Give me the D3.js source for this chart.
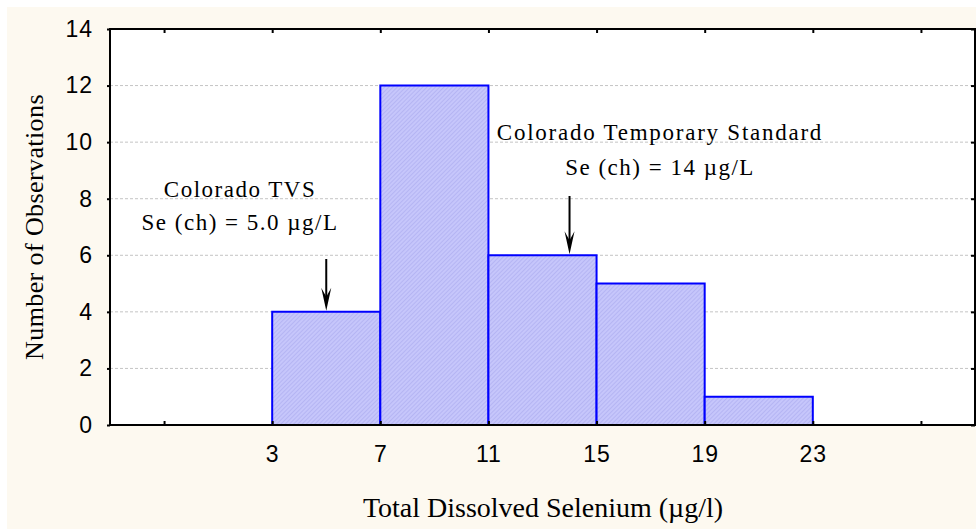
<!DOCTYPE html>
<html>
<head>
<meta charset="utf-8">
<script src="https://cdn.jsdelivr.net/npm/d3@7"></script>
<style>
  body { margin: 0; background: #fff; }
  svg { display: block; font-family: "Liberation Serif", "Times New Roman", serif; }
</style>
</head>
<body>
<script>
// histogram data
const binEdges = [-1, 3, 7, 11, 15, 19, 23, 27];
const counts = [0, 4, 12, 6, 5, 1, 0];
const xTicks = [-1, 3, 7, 11, 15, 19, 23, 27];
const xTickLabels = ["", "3", "7", "11", "15", "19", "23", ""];
const yTicks = [0, 2, 4, 6, 8, 10, 12, 14];
const annotations = [
    { x: 5, count: 4, lines: ["Colorado TVS", "Se (ch) = 5.0 \u00b5g/L"] },
    { x: 14, count: 6, lines: ["Colorado Temporary Standard", "Se (ch) = 14 \u00b5g/L"] }
];

const width = 976, height = 529;
const margin = { top: 29, right: 1, bottom: 104, left: 110 };

const svg = d3.select("body").append("svg")
    .attr("width", width)
    .attr("height", height);

const defs = svg.append("defs");
const pat = defs.append("pattern")
    .attr("id", "hatch")
    .attr("patternUnits", "userSpaceOnUse")
    .attr("width", 3)
    .attr("height", 3)
    .attr("patternTransform", "rotate(45)");
pat.append("rect").attr("width", 3).attr("height", 3).attr("fill", "#c6c6fb");
pat.append("line").attr("x1", 0).attr("y1", 0).attr("x2", 0).attr("y2", 3)
    .attr("stroke", "#a9a9ee").attr("stroke-width", 1.2);

// cream background
svg.append("rect")
    .attr("x", 7).attr("y", 7)
    .attr("width", width - 7).attr("height", height - 7)
    .attr("fill", "#fdf9f0");

const x = d3.scaleLinear().domain([-3, 29]).range([margin.left, width - margin.right]);
const y = d3.scaleLinear().domain([0, 14]).range([height - margin.bottom, margin.top]);

// plot area
svg.append("rect")
    .attr("x", x(-3)).attr("y", y(14))
    .attr("width", x(29) - x(-3)).attr("height", y(0) - y(14))
    .attr("fill", "#fff");

// grid
svg.append("g")
    .selectAll("line")
    .data(yTicks.filter(d => d > 0 && d < 14))
    .join("line")
    .attr("x1", x(-3)).attr("x2", x(29))
    .attr("y1", d => y(d)).attr("y2", d => y(d))
    .attr("stroke", "#c4c4c4")
    .attr("stroke-dasharray", "3,2")
    .attr("stroke-width", 1);

// bars
const bins = counts.map((c, i) => ({ x0: binEdges[i], x1: binEdges[i + 1], c }));
svg.append("g")
    .selectAll("path")
    .data(bins)
    .join("path")
    .attr("d", d => `M${x(d.x0)},${y(0)}V${y(d.c)}H${x(d.x1)}V${y(0)}`)
    .attr("fill", d => d.c > 0 ? "url(#hatch)" : "none")
    .attr("stroke", "#0000ff")
    .attr("stroke-width", 2);

// frame
svg.append("rect")
    .attr("x", x(-3)).attr("y", y(14))
    .attr("width", x(29) - x(-3)).attr("height", y(0) - y(14))
    .attr("fill", "none")
    .attr("stroke", "#000")
    .attr("stroke-width", 2);

// x axis
const xAxis = svg.append("g")
    .attr("transform", `translate(0,${y(0)})`)
    .call(d3.axisBottom(x).tickValues(xTicks)
        .tickFormat((d, i) => xTickLabels[i])
        .tickSizeInner(-4).tickSizeOuter(0).tickPadding(21));
xAxis.select(".domain").remove();
xAxis.selectAll("line").attr("stroke", "#000").attr("stroke-width", 2);
xAxis.selectAll("text")
    .attr("fill", "#000")
    .style("font-size", "23px")
    .style("letter-spacing", "1px");

// top ticks
const xTop = svg.append("g")
    .attr("transform", `translate(0,${y(14)})`)
    .call(d3.axisTop(x).tickValues(xTicks).tickFormat("").tickSizeInner(-4).tickSizeOuter(0));
xTop.select(".domain").remove();
xTop.selectAll("line").attr("stroke", "#000").attr("stroke-width", 2);

// y axis
const yAxis = svg.append("g")
    .attr("transform", `translate(${x(-3)},0)`)
    .call(d3.axisLeft(y).tickValues(yTicks).tickSizeInner(3).tickSizeOuter(0).tickPadding(14));
yAxis.select(".domain").remove();
yAxis.selectAll("line").attr("stroke", "#000").attr("stroke-width", 2);
yAxis.selectAll("text")
    .attr("fill", "#000")
    .style("font-size", "23px")
    .style("letter-spacing", "1px");

// right ticks
const yRight = svg.append("g")
    .attr("transform", `translate(${x(29)},0)`)
    .call(d3.axisRight(y).tickValues(yTicks).tickFormat("").tickSizeInner(-4).tickSizeOuter(0));
yRight.select(".domain").remove();
yRight.selectAll("line").attr("stroke", "#000").attr("stroke-width", 2);

// axis titles
svg.append("text")
    .attr("x", 543)
    .attr("y", 517)
    .attr("text-anchor", "middle")
    .style("font-size", "28px")
    .text("Total Dissolved Selenium (\u00b5g/l)");

svg.append("text")
    .attr("transform", `translate(43,${(y(0) + y(14)) / 2}) rotate(-90)`)
    .attr("text-anchor", "middle")
    .style("font-size", "26px")
    .style("letter-spacing", "0.4px")
    .text("Number of Observations");

// annotations
const textPos = [
    { cx: 240, ys: [197, 230] },
    { cx: 660, ys: [140, 175] }
];
const arrowTop = [259, 196];

annotations.forEach((a, i) => {
    const g = svg.append("g");
    a.lines.forEach((line, j) => {
        g.append("text")
            .attr("x", textPos[i].cx)
            .attr("y", textPos[i].ys[j])
            .attr("text-anchor", "middle")
            .style("font-size", "23px")
            .style("letter-spacing", i === 1 && j === 0 ? "1.75px" : "1.5px")
            .text(line);
    });
    const ax = x(a.x), ay = y(a.count) - 1;
    g.append("line")
        .attr("x1", ax).attr("x2", ax)
        .attr("y1", arrowTop[i]).attr("y2", ay - 10)
        .attr("stroke", "#000").attr("stroke-width", 2);
    g.append("path")
        .attr("d", `M${ax - 5},${ay - 23}L${ax},${ay - 14}L${ax + 5},${ay - 23}L${ax},${ay}Z`)
        .attr("fill", "#000");
});
</script>
</body>
</html>
